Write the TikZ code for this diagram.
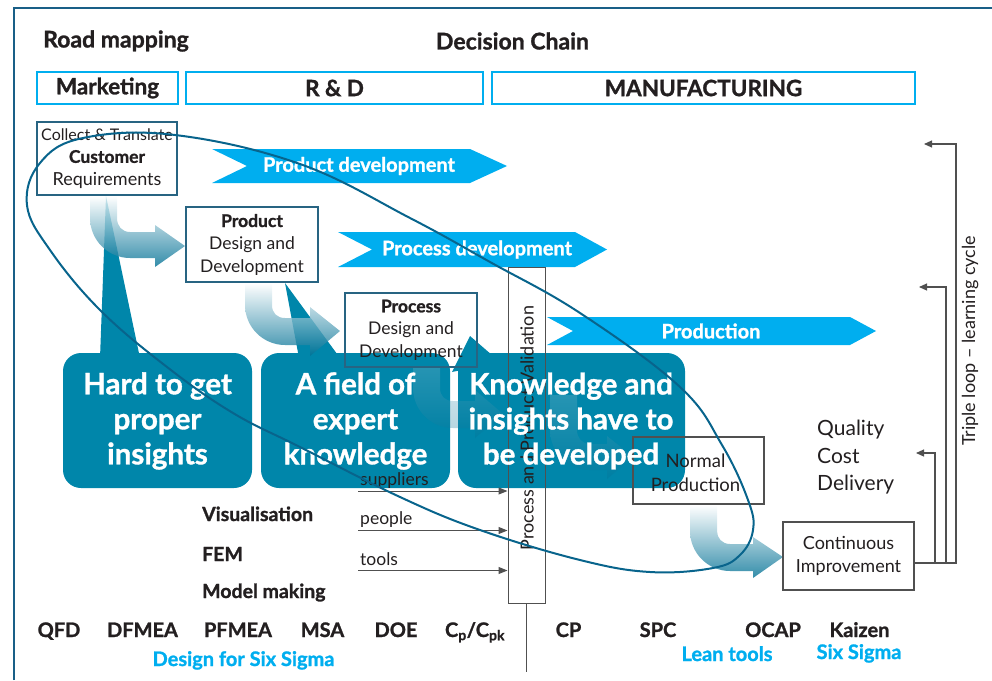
\documentclass[tikz,border=0pt]{standalone}
\usepackage{fontspec}
\setmainfont{Lato}[BoldFeatures={FakeBold=1.2}]
\usetikzlibrary{arrows.meta}
\definecolor{cyanb}{RGB}{0,174,239}
\definecolor{tealbox}{RGB}{0,134,170}
\definecolor{arrteal}{RGB}{0,112,148}
\definecolor{boxline}{RGB}{40,100,130}
\definecolor{ellc}{RGB}{8,100,140}
\definecolor{framec}{RGB}{25,95,135}
\definecolor{txt}{RGB}{35,31,32}
\definecolor{greyl}{RGB}{80,80,80}
\newcommand{\fsz}[2]{\fontsize{#1}{#2}\selectfont}
\begin{document}
\begin{tikzpicture}[x=1pt,y=-1pt,
  every node/.style={text=txt, inner sep=0pt},
  hbox/.style={draw=cyanb, line width=2.6pt, minimum height=32pt, font=\fsz{22.5}{26}\bfseries},
  hdr/.style={font=\fsz{23}{26}\bfseries},
  dbox/.style={draw=boxline, line width=1.4pt, align=center, font=\fsz{17.5}{22.5}},
  gbox/.style={draw=greyl, line width=1.1pt, align=center, font=\fsz{18}{23.5}},
  chevtxt/.style={text=white, font=\fsz{20}{22}\bfseries},
  bigtxt/.style={text=white, align=center, font=\fsz{29.5}{35}\bfseries},
  grad/.style={top color=white, bottom color=arrteal, fill opacity=0.8},
  gradfaint/.style={top color=arrteal!50!white, bottom color=arrteal, fill opacity=0.3},
  feed/.style={draw=greyl, line width=1.1pt, -{Triangle[length=8pt,width=7pt]}},
  inarrow/.style={draw=greyl, line width=1pt, -{Triangle[length=9pt,width=7pt]}},
  toolname/.style={anchor=base, font=\fsz{20}{22}\bfseries},
  cyl/.style={anchor=base, text=cyanb, font=\fsz{20}{22}\bfseries},
  lbl/.style={anchor=base west, font=\fsz{17.5}{18}},
  blbl/.style={anchor=base west, font=\fsz{19.5}{20}\bfseries},
  qcd/.style={anchor=base west, font=\fsz{21}{27}}
]
\useasboundingbox (0,0) rectangle (992,680);
% frame
\draw[framec, line width=1.6pt] (14,680) -- (14,8) -- (992,8);

% header
\node[hdr, anchor=west] (road) at (43,41) {Road mapping};
\node[hdr] (dec) at (512.5,41) {Decision Chain};
\node[hbox, minimum width=141pt] (mkt) at (107.5,88) {Marketing};
\node[hbox, minimum width=297pt] (rd) at (334.5,88) {R \& D};
\node[hbox, minimum width=423pt] (man) at (703.5,88) {MANUFACTURING};

% cyan chevrons
\fill[cyanb] (212,149) -- (470,149) -- (507,166) -- (470,183) -- (212,183) -- (247,166) -- cycle;
\node[chevtxt] (pdl) at (359,166) {Product development};
\fill[cyanb] (338,232) -- (575,232) -- (607,249.5) -- (575,267) -- (338,267) -- (372,249.5) -- cycle;
\node[chevtxt] (prl) at (477,249.5) {Process development};
\fill[cyanb] (547,317) -- (850,317) -- (876,331) -- (850,345) -- (547,345) -- (573,331) -- cycle;
\node[chevtxt] (pnl) at (711,331) {Production};

% teal callout boxes
\fill[tealbox, rounded corners=18pt] (63,353) rectangle (252,488);
\fill[tealbox, rounded corners=18pt] (261,353) rectangle (450,488);
\fill[tealbox, rounded corners=18pt] (458,353) rectangle (685,488);
\fill[tealbox] (100,358) -- (106,196) -- (140,358) -- cycle;
\fill[tealbox] (299,358) -- (285,283) -- (340,358) -- cycle;
\fill[tealbox] (452,372) -- (470,336) -- (500,362) -- cycle;

% gradient flow arrows
\shade[grad] (90,196) -- (90,218) .. controls (90,240) and (108,258) .. (130,258) -- (155,258) -- (155,267) -- (185,246) -- (155,225) -- (155,232) -- (130,232) .. controls (122,232) and (117,226) .. (117,218) -- (117,196) -- cycle;
\shade[grad] (245,283) -- (245,305) .. controls (245,327) and (263,345) .. (285,345) -- (310,345) -- (310,356) -- (340,331) -- (310,307) -- (310,318) -- (285,318) .. controls (277,318) and (272,313) .. (272,305) -- (272,283) -- cycle;
\shade[gradfaint] (413,367) -- (413,388) .. controls (413,410) and (431,428) .. (453,428) -- (475,428) -- (475,438) -- (503,414) -- (475,390) -- (475,401) -- (453,401) .. controls (445,401) and (440,396) .. (440,388) -- (440,367) -- cycle;
\shade[gradfaint] (550,395) -- (550,430) .. controls (550,452) and (568,470) .. (590,470) -- (607,470) -- (607,479) -- (633,457) -- (607,436) -- (607,444) -- (590,444) .. controls (582,444) and (577,438) .. (577,430) -- (577,395) -- cycle;
\shade[grad] (690,505) -- (690,531) .. controls (690,553) and (708,571) .. (730,571) -- (753,571) -- (753,578) -- (783,557) -- (753,537) -- (753,544) -- (730,544) .. controls (722,544) and (717,538) .. (717,531) -- (717,505) -- cycle;

% design boxes
\node[dbox, minimum width=140pt, minimum height=73pt] (cust) at (107,158.5)
  {{\fsz{16}{22}Collect \& Translate}\\{\bfseries Customer}\\{\fsz{18}{23}Requirements}};
\node[dbox, minimum width=132pt, minimum height=75pt] (prod) at (252,244.5)
  {{\bfseries Product}\\Design and\\Development};
\node[dbox, minimum width=132pt, minimum height=74pt] (proc) at (411,330)
  {{\bfseries Process}\\Design and\\Development};

% validation box
\node[draw=greyl, line width=1pt, minimum width=37pt, minimum height=336pt] (val) at (526.5,435) {};
\node[rotate=90, font=\fsz{18}{20}] (valt) at (527,428) {Process and Product Validation};
\coordinate (stemend) at (526.5,672);
\draw[greyl, line width=1pt] (val.south) -- (stemend);

% inputs
\coordinate (s0) at (358,491);
\coordinate (p0) at (358,530.5);
\coordinate (t0) at (358,570.5);
\draw[inarrow] (s0) -- (val.west |- s0);
\draw[inarrow] (p0) -- (val.west |- p0);
\draw[inarrow] (t0) -- (val.west |- t0);
\node[lbl] (sup) at (360,485.5) {suppliers};
\node[lbl] (peo) at (360,524) {people};
\node[lbl] (too) at (360,565) {tools};

\node[blbl] (vis) at (202,521) {Visualisation};
\node[blbl] (fem) at (202,561) {FEM};
\node[blbl] (mm) at (202,598) {Model making};

% manufacturing side
\node[gbox, minimum width=131pt, minimum height=67pt] (np) at (698.5,470.5) {};
\node[align=center, font=\fsz{18.5}{23.5}] (npt) at (695.5,473) {Normal\\Production};
\node[gbox, minimum width=131pt, minimum height=68pt] (ci) at (848.5,556) {Continuous\\Improvement};
\node[qcd] (qual) at (817,435) {Quality};
\node[qcd] (cost) at (817,463) {Cost};
\node[qcd] (deliv) at (817,490) {Delivery};

\coordinate (ciout) at (914.5,563);
\coordinate (fb1) at (916,453);
\coordinate (fb2) at (919,287);
\coordinate (fb3) at (924,144);
\draw[feed] (ciout) -| (935,453) -- (fb1);
\draw[feed] (ciout) -| (946,287) -- (fb2);
\draw[feed] (ciout) -| (956,144) -- (fb3);
\node[rotate=90, font=\fsz{18}{20}] (tl) at (970,341) {Triple loop -- learning cycle};

% bottom tools
\node[toolname] (qfd) at (59,637) {QFD};
\node[toolname] (dfm) at (142.5,637) {DFMEA};
\node[toolname] (pfm) at (238,637) {PFMEA};
\node[toolname] (msa) at (322.5,637) {MSA};
\node[toolname] (doe) at (396,637) {DOE};
\node[toolname] (cpk) at (475,637) {C\textsubscript{p}/C\textsubscript{pk}};
\node[toolname] (cp) at (568.5,637) {CP};
\node[toolname] (spc) at (658,637) {SPC};
\node[toolname] (ocap) at (773,637) {OCAP};
\node[toolname] (kai) at (859.5,637) {Kaizen};
\node[cyl] (dfss) at (243.5,666) {Design for Six Sigma};
\node[cyl] (lean) at (727,661) {Lean tools};
\node[cyl] (sixs) at (859,659) {Six Sigma};

% callout texts
\node[bigtxt] (t1) at (157.5,421) {Hard to get\\proper\\insights};
\node[bigtxt] (t2) at (355.5,421) {A field of\\expert\\knowledge};
\node[bigtxt] (t3) at (571,421) {Knowledge and\\insights have to\\be developed};

% ellipse
\draw[ellc, line width=2pt] plot[smooth cycle, tension=0.65] coordinates {
 (175,135) (300,164) (410,218) (490,262) (580,313) (680,387) (722,445)
 (748,500) (753,530) (740,555) (713,568) (650,572) (580,560) (480,530)
 (400,497) (300,447) (233,413) (167,367) (100,310) (50,250) (27,205)
 (40,163) (83,138)};
\end{tikzpicture}
\end{document}
